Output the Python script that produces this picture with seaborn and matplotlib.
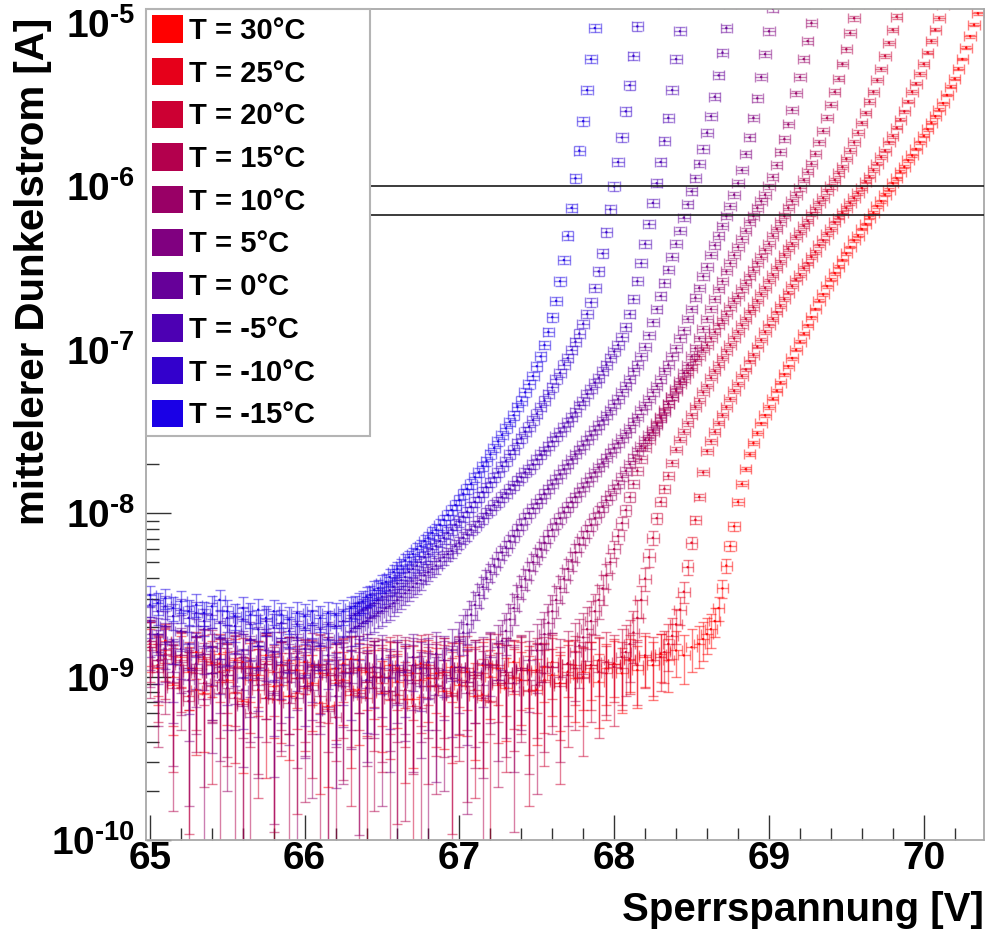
import numpy as np
import pandas as pd
import matplotlib
matplotlib.use("Agg")
import matplotlib.pyplot as plt
import seaborn as sns
from matplotlib.patches import Rectangle
from matplotlib.ticker import FixedLocator, FixedFormatter, LogLocator, NullFormatter, MultipleLocator

# ---------------- data ----------------
TEMPS = [30, 25, 20, 15, 10, 5, 0, -5, -10, -15]
COLORS = ['#ff0000', '#e6001a', '#cc0033', '#b3004d', '#990066',
          '#800080', '#660099', '#4d00b3', '#3300cc', '#1a00e6']

# coarse voltage steps (flat dark-current region)
VOLTAGE = [65.00, 65.05, 65.10, 65.15, 65.20, 65.25, 65.30, 65.35, 65.40, 65.45,
           65.50, 65.55, 65.60, 65.65, 65.70, 65.75, 65.80, 65.85, 65.90, 65.95,
           66.00, 66.05, 66.10, 66.15, 66.20, 66.25, 66.30, 66.35, 66.40, 66.45,
           66.50, 66.55, 66.60, 66.65, 66.70, 66.75, 66.80, 66.85, 66.90, 66.95,
           67.00, 67.05, 67.10, 67.15, 67.20, 67.25, 67.30, 67.35, 67.40, 67.45,
           67.50, 67.55, 67.60, 67.65, 67.70, 67.75, 67.80, 67.85, 67.90, 67.95,
           68.00, 68.05, 68.10, 68.15, 68.20, 68.25, 68.30, 68.35, 68.40, 68.45,
           68.50]
# fine voltage steps (rising region)
FINE_VOLTAGE = [66.300, 66.325, 66.350, 66.375, 66.400, 66.425, 66.450, 66.475,
                66.500, 66.525, 66.550, 66.575, 66.600, 66.625, 66.650, 66.675,
                66.700, 66.725, 66.750, 66.775, 66.800, 66.825, 66.850, 66.875,
                66.900, 66.925, 66.950, 66.975, 67.000, 67.025, 67.050, 67.075,
                67.100, 67.125, 67.150, 67.175, 67.200, 67.225, 67.250, 67.275,
                67.300, 67.325, 67.350, 67.375, 67.400, 67.425, 67.450, 67.475,
                67.500, 67.525, 67.550, 67.575, 67.600, 67.625, 67.650, 67.675,
                67.700, 67.725, 67.750, 67.775, 67.800, 67.825, 67.850, 67.875,
                67.900, 67.925, 67.950, 67.975, 68.000, 68.025, 68.050, 68.075,
                68.100, 68.125, 68.150, 68.175, 68.200, 68.225, 68.250, 68.275,
                68.300, 68.325, 68.350, 68.375, 68.400, 68.425, 68.450, 68.475,
                68.500, 68.525, 68.550, 68.575, 68.600, 68.625, 68.650, 68.675,
                68.700, 68.725, 68.750, 68.775, 68.800, 68.825, 68.850, 68.875,
                68.900, 68.925, 68.950, 68.975, 69.000, 69.025, 69.050, 69.075,
                69.100, 69.125, 69.150, 69.175, 69.200, 69.225, 69.250, 69.275,
                69.300, 69.325, 69.350, 69.375, 69.400, 69.425, 69.450, 69.475,
                69.500, 69.525, 69.550, 69.575, 69.600, 69.625, 69.650, 69.675,
                69.700, 69.725, 69.750, 69.775, 69.800, 69.825, 69.850, 69.875,
                69.900, 69.925, 69.950, 69.975, 70.000, 70.025, 70.050, 70.075,
                70.100, 70.125, 70.150, 70.175, 70.200, 70.225, 70.250, 70.275,
                70.300, 70.325, 70.350, 70.375, 70.400]

# log10 of mean dark current [A]: BASE_* on VOLTAGE (from 65.00 V),
# RISE_* on FINE_VOLTAGE starting at RISE_START
BASE_30 = [-8.82, -8.95, -8.78, -9.05, -8.88, -8.97, -8.85, -9.10, -8.92, -8.86,
           -9.02, -8.90, -9.15, -8.94, -8.99, -8.87, -9.06, -8.93, -9.12, -8.96,
           -8.91, -9.04, -8.98, -9.18, -8.95, -9.02, -8.89, -9.08, -8.97, -9.00,
           -9.10, -8.93, -9.03, -8.96, -9.14, -8.92, -9.01, -8.98, -9.09, -8.94,
           -9.05, -8.97, -9.12, -8.93, -9.00, -8.95, -9.07, -8.91, -9.02, -8.96,
           -9.08, -8.94, -8.99, -9.04, -8.92, -9.01, -8.97, -8.93, -9.03, -8.95,
           -8.92, -8.98, -8.90, -8.96, -8.88, -8.93, -8.86, -8.90, -8.84, -8.87,
           -8.82]
RISE_30 = [-8.80, -8.77, -8.74, -8.71, -8.66, -8.58, -8.46, -8.32, -8.20, -8.08,
           -7.93, -7.82, -7.73, -7.64, -7.57, -7.51, -7.45, -7.40, -7.35, -7.30,
           -7.25, -7.20, -7.15, -7.10, -7.05, -7.00, -6.95, -6.90, -6.85, -6.80,
           -6.75, -6.70, -6.66, -6.61, -6.57, -6.53, -6.49, -6.45, -6.41, -6.37,
           -6.33, -6.30, -6.26, -6.23, -6.19, -6.16, -6.12, -6.09, -6.05, -6.02,
           -5.98, -5.95, -5.91, -5.88, -5.84, -5.81, -5.77, -5.73, -5.69, -5.65,
           -5.61, -5.57, -5.53, -5.49, -5.44, -5.39, -5.34, -5.28, -5.22, -5.15,
           -5.08, -5.01, -4.94, -4.87, -4.80]
BASE_25 = [-8.78, -8.90, -8.84, -9.00, -8.87, -8.95, -9.08, -8.89, -8.98, -8.92,
           -8.96, -9.10, -8.91, -9.02, -8.94, -9.13, -8.97, -9.05, -8.90, -9.01,
           -9.07, -8.93, -9.16, -8.99, -9.04, -8.92, -9.11, -8.96, -9.03, -8.94,
           -9.00, -9.09, -8.95, -9.14, -8.98, -9.02, -8.93, -9.06, -8.97, -9.10,
           -8.94, -9.03, -8.99, -9.11, -8.92, -9.05, -8.97, -9.01, -8.95, -9.08,
           -8.96, -9.02, -8.91, -9.04, -8.97, -8.93, -9.00, -8.95, -8.90, -8.98,
           -8.92, -8.95, -8.89, -8.93, -8.87, -8.90]
RISE_25 = [-8.88, -8.85, -8.80, -8.75, -8.68, -8.59, -8.48, -8.33, -8.18, -8.04,
           -7.90, -7.75, -7.62, -7.56, -7.50, -7.45, -7.40, -7.35, -7.30, -7.25,
           -7.21, -7.16, -7.12, -7.07, -7.03, -6.98, -6.94, -6.89, -6.85, -6.81,
           -6.77, -6.73, -6.69, -6.65, -6.61, -6.57, -6.54, -6.50, -6.47, -6.43,
           -6.40, -6.36, -6.33, -6.29, -6.26, -6.22, -6.19, -6.16, -6.13, -6.10,
           -6.07, -6.04, -6.01, -5.97, -5.94, -5.90, -5.86, -5.82, -5.78, -5.73,
           -5.69, -5.64, -5.59, -5.54, -5.48, -5.42, -5.37, -5.31, -5.25, -5.18,
           -5.11, -5.04, -4.97, -4.89, -4.82]
BASE_20 = [-8.80, -8.93, -8.86, -9.04, -8.90, -9.12, -8.95, -8.88, -9.06, -8.97,
           -9.03, -8.94, -9.17, -8.99, -9.08, -8.92, -9.14, -9.01, -8.96, -9.10,
           -8.98, -9.05, -8.93, -9.20, -9.02, -8.97, -9.09, -8.95, -9.13, -9.00,
           -9.04, -8.96, -9.11, -8.99, -9.18, -8.94, -9.06, -9.01, -8.97, -9.12,
           -9.02, -8.95, -9.08, -8.98, -9.15, -8.93, -9.04, -9.00, -8.96, -9.09,
           -8.97, -9.03, -8.94, -9.06, -8.99, -8.95, -9.01, -8.93, -8.97, -8.91,
           -8.94]
RISE_20 = [-8.88, -8.85, -8.80, -8.73, -8.64, -8.53, -8.40, -8.27, -8.15, -8.03,
           -7.93, -7.85, -7.77, -7.69, -7.61, -7.55, -7.50, -7.45, -7.40, -7.35,
           -7.31, -7.26, -7.22, -7.17, -7.13, -7.09, -7.05, -7.01, -6.97, -6.93,
           -6.89, -6.85, -6.81, -6.77, -6.74, -6.70, -6.66, -6.62, -6.58, -6.54,
           -6.50, -6.46, -6.42, -6.38, -6.35, -6.31, -6.28, -6.24, -6.21, -6.17,
           -6.14, -6.10, -6.07, -6.03, -6.00, -5.96, -5.92, -5.88, -5.83, -5.78,
           -5.73, -5.67, -5.61, -5.55, -5.48, -5.42, -5.35, -5.28, -5.20, -5.12,
           -5.04, -4.96, -4.88]
BASE_15 = [-8.84, -8.97, -8.89, -9.07, -8.93, -9.15, -8.98, -9.04, -8.91, -9.10,
           -8.99, -9.13, -8.95, -9.22, -9.02, -8.96, -9.09, -8.93, -9.16, -9.01,
           -9.06, -8.94, -9.12, -8.98, -9.25, -9.03, -8.97, -9.10, -8.95, -9.07,
           -9.00, -9.14, -8.96, -9.08, -9.02, -9.19, -8.95, -9.05, -8.99, -9.11,
           -8.97, -9.06, -9.01, -9.13, -8.94, -9.04, -8.99, -9.09, -8.96, -9.02,
           -9.05, -8.98, -8.94, -9.00, -8.92]
RISE_15 = [-8.85, -8.81, -8.76, -8.71, -8.66, -8.60, -8.53, -8.46, -8.38, -8.30,
           -8.22, -8.14, -8.06, -7.98, -7.90, -7.82, -7.74, -7.67, -7.60, -7.55,
           -7.50, -7.45, -7.41, -7.37, -7.33, -7.29, -7.25, -7.21, -7.18, -7.14,
           -7.11, -7.07, -7.04, -7.00, -6.97, -6.93, -6.89, -6.85, -6.82, -6.78,
           -6.74, -6.70, -6.67, -6.63, -6.59, -6.55, -6.51, -6.47, -6.43, -6.39,
           -6.35, -6.30, -6.26, -6.22, -6.18, -6.13, -6.09, -6.05, -6.01, -5.96,
           -5.91, -5.86, -5.80, -5.73, -5.66, -5.58, -5.50, -5.42, -5.34, -5.25,
           -5.16, -5.06, -4.97, -4.88, -4.80]
BASE_10 = [-8.82, -8.94, -8.87, -9.03, -8.91, -9.09, -8.96, -9.14, -8.93, -9.02,
           -9.07, -8.95, -9.18, -8.98, -9.05, -8.92, -9.11, -9.00, -8.96, -9.13,
           -9.01, -9.08, -8.94, -9.21, -8.99, -9.06, -8.95, -9.12, -9.03, -8.97,
           -9.09, -9.00, -9.16, -8.96, -9.04, -8.98, -9.13, -8.95, -9.07, -9.01,
           -8.96, -9.10, -8.99, -9.05, -8.93, -9.02, -8.97, -9.04, -8.95, -8.90]
RISE_10 = [-8.84, -8.80, -8.74, -8.67, -8.60, -8.53, -8.46, -8.40, -8.34, -8.29,
           -8.24, -8.19, -8.15, -8.11, -8.07, -8.03, -7.99, -7.96, -7.92, -7.89,
           -7.85, -7.82, -7.78, -7.74, -7.70, -7.66, -7.62, -7.59, -7.55, -7.52,
           -7.49, -7.46, -7.42, -7.38, -7.33, -7.29, -7.24, -7.19, -7.14, -7.09,
           -7.04, -6.99, -6.93, -6.87, -6.81, -6.75, -6.69, -6.63, -6.58, -6.52,
           -6.47, -6.42, -6.37, -6.32, -6.27, -6.22, -6.18, -6.13, -6.09, -6.05,
           -6.00, -5.94, -5.87, -5.79, -5.71, -5.62, -5.53, -5.43, -5.33, -5.22,
           -5.11, -5.00, -4.88]
BASE_5 = [-8.78, -8.90, -8.83, -8.97, -8.87, -9.02, -8.92, -8.86, -9.05, -8.94,
          -8.99, -8.91, -9.08, -8.95, -9.01, -8.89, -9.10, -8.97, -9.03, -8.93,
          -9.06, -8.96, -9.00, -8.92, -9.12, -8.98, -9.04, -8.94, -9.07, -9.00,
          -8.95, -9.09, -8.97, -9.02, -8.93, -9.06, -8.99, -9.11, -8.96, -9.01,
          -8.94, -9.03, -8.97, -8.92, -8.88]
RISE_5 = [-8.82, -8.78, -8.72, -8.65, -8.58, -8.51, -8.45, -8.40, -8.35, -8.30,
          -8.26, -8.22, -8.18, -8.14, -8.10, -8.06, -8.03, -7.99, -7.96, -7.93,
          -7.90, -7.87, -7.84, -7.81, -7.78, -7.75, -7.72, -7.69, -7.66, -7.63,
          -7.60, -7.57, -7.54, -7.51, -7.48, -7.44, -7.41, -7.37, -7.34, -7.30,
          -7.26, -7.22, -7.18, -7.13, -7.09, -7.04, -6.99, -6.93, -6.88, -6.81,
          -6.75, -6.68, -6.62, -6.55, -6.49, -6.42, -6.36, -6.30, -6.24, -6.18,
          -6.12, -6.05, -5.98, -5.90, -5.80, -5.70, -5.58, -5.46, -5.33, -5.19,
          -5.05, -4.91, -4.78]
BASE_0 = [-8.74, -8.85, -8.79, -8.92, -8.83, -8.96, -8.87, -8.81, -8.98, -8.89,
          -8.93, -8.86, -9.01, -8.90, -8.95, -8.84, -9.03, -8.91, -8.97, -8.88,
          -9.00, -8.92, -8.96, -8.87, -9.05, -8.93, -8.98, -8.90, -9.02, -8.94,
          -8.89, -9.01, -8.93, -8.97, -8.88, -8.95, -8.91, -8.86, -8.90, -8.84]
RISE_0 = [-8.78, -8.73, -8.68, -8.62, -8.56, -8.50, -8.45, -8.40, -8.36, -8.32,
          -8.28, -8.24, -8.21, -8.17, -8.14, -8.10, -8.07, -8.03, -8.00, -7.97,
          -7.94, -7.91, -7.88, -7.85, -7.82, -7.79, -7.76, -7.73, -7.70, -7.67,
          -7.64, -7.61, -7.58, -7.55, -7.52, -7.49, -7.46, -7.43, -7.40, -7.37,
          -7.33, -7.30, -7.26, -7.22, -7.18, -7.13, -7.09, -7.04, -6.98, -6.91,
          -6.83, -6.75, -6.67, -6.59, -6.51, -6.43, -6.35, -6.27, -6.19, -6.11,
          -6.03, -5.95, -5.86, -5.77, -5.67, -5.57, -5.45, -5.32, -5.18, -5.03,
          -4.88]
BASE_M5 = [-8.66, -8.74, -8.69, -8.78, -8.72, -8.80, -8.75, -8.71, -8.82, -8.76,
           -8.79, -8.73, -8.84, -8.77, -8.81, -8.75, -8.85, -8.78, -8.82, -8.76,
           -8.83, -8.79, -8.81, -8.77, -8.80, -8.76]
RISE_M5 = [-8.72, -8.70, -8.69, -8.67, -8.66, -8.64, -8.63, -8.61, -8.60, -8.58,
           -8.57, -8.55, -8.53, -8.51, -8.49, -8.47, -8.45, -8.43, -8.41, -8.38,
           -8.36, -8.34, -8.32, -8.29, -8.27, -8.25, -8.23, -8.20, -8.18, -8.15,
           -8.13, -8.10, -8.08, -8.05, -8.03, -8.00, -7.98, -7.95, -7.93, -7.90,
           -7.88, -7.85, -7.83, -7.80, -7.78, -7.75, -7.73, -7.70, -7.67, -7.64,
           -7.62, -7.59, -7.56, -7.53, -7.50, -7.47, -7.44, -7.41, -7.38, -7.34,
           -7.31, -7.27, -7.24, -7.20, -7.17, -7.13, -7.09, -7.05, -7.01, -6.97,
           -6.92, -6.86, -6.78, -6.69, -6.58, -6.47, -6.35, -6.23, -6.10, -5.98,
           -5.85, -5.72, -5.58, -5.41, -5.22, -5.05, -4.88]
BASE_M10 = [-8.56, -8.60, -8.57, -8.63, -8.59, -8.64, -8.61, -8.66, -8.62, -8.67,
            -8.64, -8.69, -8.65, -8.68, -8.71, -8.66, -8.70, -8.67, -8.72, -8.68,
            -8.70, -8.67, -8.71, -8.68, -8.69, -8.66]
RISE_M10 = [-8.64, -8.62, -8.61, -8.59, -8.58, -8.56, -8.55, -8.53, -8.51, -8.49,
            -8.47, -8.45, -8.43, -8.41, -8.39, -8.36, -8.34, -8.32, -8.30, -8.27,
            -8.25, -8.22, -8.20, -8.17, -8.15, -8.12, -8.10, -8.07, -8.05, -8.02,
            -7.99, -7.96, -7.93, -7.90, -7.87, -7.84, -7.81, -7.78, -7.75, -7.71,
            -7.68, -7.64, -7.61, -7.57, -7.54, -7.50, -7.47, -7.43, -7.39, -7.35,
            -7.31, -7.27, -7.23, -7.18, -7.14, -7.09, -7.05, -7.00, -6.95, -6.90,
            -6.84, -6.78, -6.71, -6.62, -6.52, -6.41, -6.28, -6.14, -6.00, -5.85,
            -5.70, -5.54, -5.38, -5.20, -5.02, -4.84]
BASE_M15 = [-8.50, -8.55, -8.52, -8.58, -8.54, -8.60, -8.56, -8.61, -8.57, -8.53,
            -8.60, -8.63, -8.58, -8.62, -8.59, -8.64, -8.60, -8.62, -8.65, -8.61,
            -8.63, -8.60, -8.64, -8.61, -8.62, -8.60]
RISE_M15 = [-8.58, -8.57, -8.55, -8.54, -8.51, -8.50, -8.47, -8.46, -8.43, -8.42,
            -8.39, -8.36, -8.34, -8.32, -8.29, -8.27, -8.25, -8.22, -8.20, -8.17,
            -8.15, -8.12, -8.10, -8.07, -8.04, -8.01, -7.98, -7.95, -7.92, -7.88,
            -7.85, -7.82, -7.78, -7.75, -7.71, -7.68, -7.64, -7.60, -7.56, -7.52,
            -7.48, -7.44, -7.40, -7.35, -7.31, -7.26, -7.21, -7.16, -7.10, -7.04,
            -6.97, -6.89, -6.80, -6.70, -6.58, -6.45, -6.30, -6.13, -5.95, -5.78,
            -5.60, -5.41, -5.22, -5.03, -4.85]

BASES = [BASE_30, BASE_25, BASE_20, BASE_15, BASE_10,
         BASE_5, BASE_0, BASE_M5, BASE_M10, BASE_M15]
RISES = [RISE_30, RISE_25, RISE_20, RISE_15, RISE_10,
         RISE_5, RISE_0, RISE_M5, RISE_M10, RISE_M15]
RISE_START = [68.55, 68.30, 68.05, 67.75, 67.50, 67.25, 67.00, 66.30, 66.30, 66.30]

# measurement uncertainties
NOISE_FLOOR = [4.5e-10, 5.0e-10, 6.5e-10, 7.0e-10, 6.5e-10,
               5.5e-10, 5.0e-10, 4.5e-10, 4.0e-10, 4.0e-10]   # A
REL_ERR = [0.02, 0.025, 0.03, 0.035, 0.04, 0.045, 0.05, 0.055, 0.06, 0.06]
VOLT_ERR = 0.037   # V

REF_LINES = [1.0e-6, 6.7e-7]

X_TICKS = [65, 66, 67, 68, 69, 70]
Y_TICKS = [1e-10, 1e-9, 1e-8, 1e-7, 1e-6, 1e-5]
Y_TICK_LABELS = [r'$\mathbf{10^{\text{-}10}}$', r'$\mathbf{10^{\text{-}9}}$',
                 r'$\mathbf{10^{\text{-}8}}$', r'$\mathbf{10^{\text{-}7}}$',
                 r'$\mathbf{10^{\text{-}6}}$', r'$\mathbf{10^{\text{-}5}}$']

X_LABEL = 'Sperrspannung [V]'
Y_LABEL = 'mittelerer Dunkelstrom [A]'

# ---------------- table ----------------
fine_arr = np.array(FINE_VOLTAGE)
rows = []
for t, base, rise, start, s0, rel in zip(TEMPS, BASES, RISES, RISE_START,
                                          NOISE_FLOOR, REL_ERR):
    i0 = int(np.argmin(np.abs(fine_arr - start)))
    volts = list(VOLTAGE[:len(base)]) + list(FINE_VOLTAGE[i0:i0 + len(rise)])
    logs = list(base) + list(rise)
    for v, li in zip(volts, logs):
        cur = 10.0 ** li
        rows.append({'T': t, 'U': v, 'I': cur,
                     'dI': np.sqrt(s0 ** 2 + (rel * cur) ** 2)})
df = pd.DataFrame(rows)

# ---------------- style ----------------
sns.set_style('ticks')
plt.rcParams['font.family'] = ['Liberation Sans', 'DejaVu Sans']
plt.rcParams['font.weight'] = 'bold'
plt.rcParams['mathtext.fontset'] = 'custom'
plt.rcParams['mathtext.bf'] = 'Liberation Sans:bold'
plt.rcParams['mathtext.rm'] = 'Liberation Sans:bold'
plt.rcParams['mathtext.it'] = 'Liberation Sans:bold'
for k in ['text.color', 'axes.labelcolor', 'xtick.labelcolor', 'ytick.labelcolor']:
    plt.rcParams[k] = 'black'

W, H = 988, 949
fig = plt.figure(figsize=(W / 100, H / 100), dpi=100)
ax_l, ax_r, ax_t, ax_b = 146, 984, 9, 840
ax = fig.add_axes([ax_l / W, (H - ax_b) / H, (ax_r - ax_l) / W, (ax_b - ax_t) / H])
ax.set_yscale('log', nonpositive='clip')

palette = dict(zip(TEMPS, COLORS))
for t in TEMPS:
    d = df[df['T'] == t]
    ax.errorbar(d['U'], d['I'], xerr=VOLT_ERR, yerr=d['dI'], fmt='none',
                ecolor=palette[t], elinewidth=1.0, capsize=3.6, capthick=1.0,
                alpha=0.5, zorder=2)
sns.scatterplot(data=df, x='U', y='I', hue='T', palette=palette,
                hue_order=TEMPS, s=3, linewidth=0, alpha=0.9,
                legend=False, ax=ax, zorder=3)

for yv in REF_LINES:
    ax.axhline(yv, color='#1a1a1a', lw=1.2, zorder=4)

ax.set_xlim(64.975, 70.39)
ax.set_ylim(1e-10, 1.22e-5)

# ticks
ax.xaxis.set_major_locator(FixedLocator(X_TICKS))
ax.xaxis.set_minor_locator(MultipleLocator(0.2))
ax.yaxis.set_major_locator(FixedLocator(Y_TICKS))
ax.yaxis.set_major_formatter(FixedFormatter(Y_TICK_LABELS))
ax.yaxis.set_minor_locator(LogLocator(base=10, subs=np.arange(2, 10), numticks=20))
ax.yaxis.set_minor_formatter(NullFormatter())
ax.tick_params(axis='both', which='major', direction='in', length=18, width=1.0,
               color='#333333', labelsize=28, top=False, right=False)
ax.tick_params(axis='both', which='minor', direction='in', length=9, width=1.0,
               color='#333333', top=False, right=False)
ax.tick_params(axis='x', which='major', pad=1)
ax.tick_params(axis='y', which='major', pad=8)
for lab in ax.get_xticklabels():
    lab.set_fontweight('bold')

for sp in ax.spines.values():
    sp.set_color('#a8a8a8')
    sp.set_linewidth(1.3)

ax.set_xlabel(X_LABEL, fontsize=29, fontweight='bold', loc='right')
ax.xaxis.set_label_coords(1.0, -0.061)
ax.set_ylabel(Y_LABEL, fontsize=29, fontweight='bold', loc='top')
ax.yaxis.set_label_coords(-0.112, 0.989)

# legend (frame drawn as a fixed box, like the original)
ax_w, ax_h = ax_r - ax_l, ax_b - ax_t
box_y0 = 1 - (436 - ax_t) / ax_h
frame = Rectangle((0, box_y0), (370 - ax_l) / ax_w, 1 - box_y0, transform=ax.transAxes,
                  facecolor='white', edgecolor='#b4b4b4', lw=1.5, zorder=8, clip_on=False)
ax.add_patch(frame)
handles = [Rectangle((0, 0), 1, 1, facecolor=c, edgecolor='none') for c in COLORS]
labels = ['T = %d\u00b0C' % t for t in TEMPS]
leg = ax.legend(handles, labels, loc='upper left', bbox_to_anchor=(0, 1),
                borderaxespad=0, prop={'weight': 'bold', 'size': 21},
                handlelength=1.06, handleheight=1.06, handletextpad=0.2,
                labelspacing=0.45, borderpad=0.22, frameon=False)
leg.set_zorder(10)

fig.savefig('out.png', dpi=100, facecolor='white')
